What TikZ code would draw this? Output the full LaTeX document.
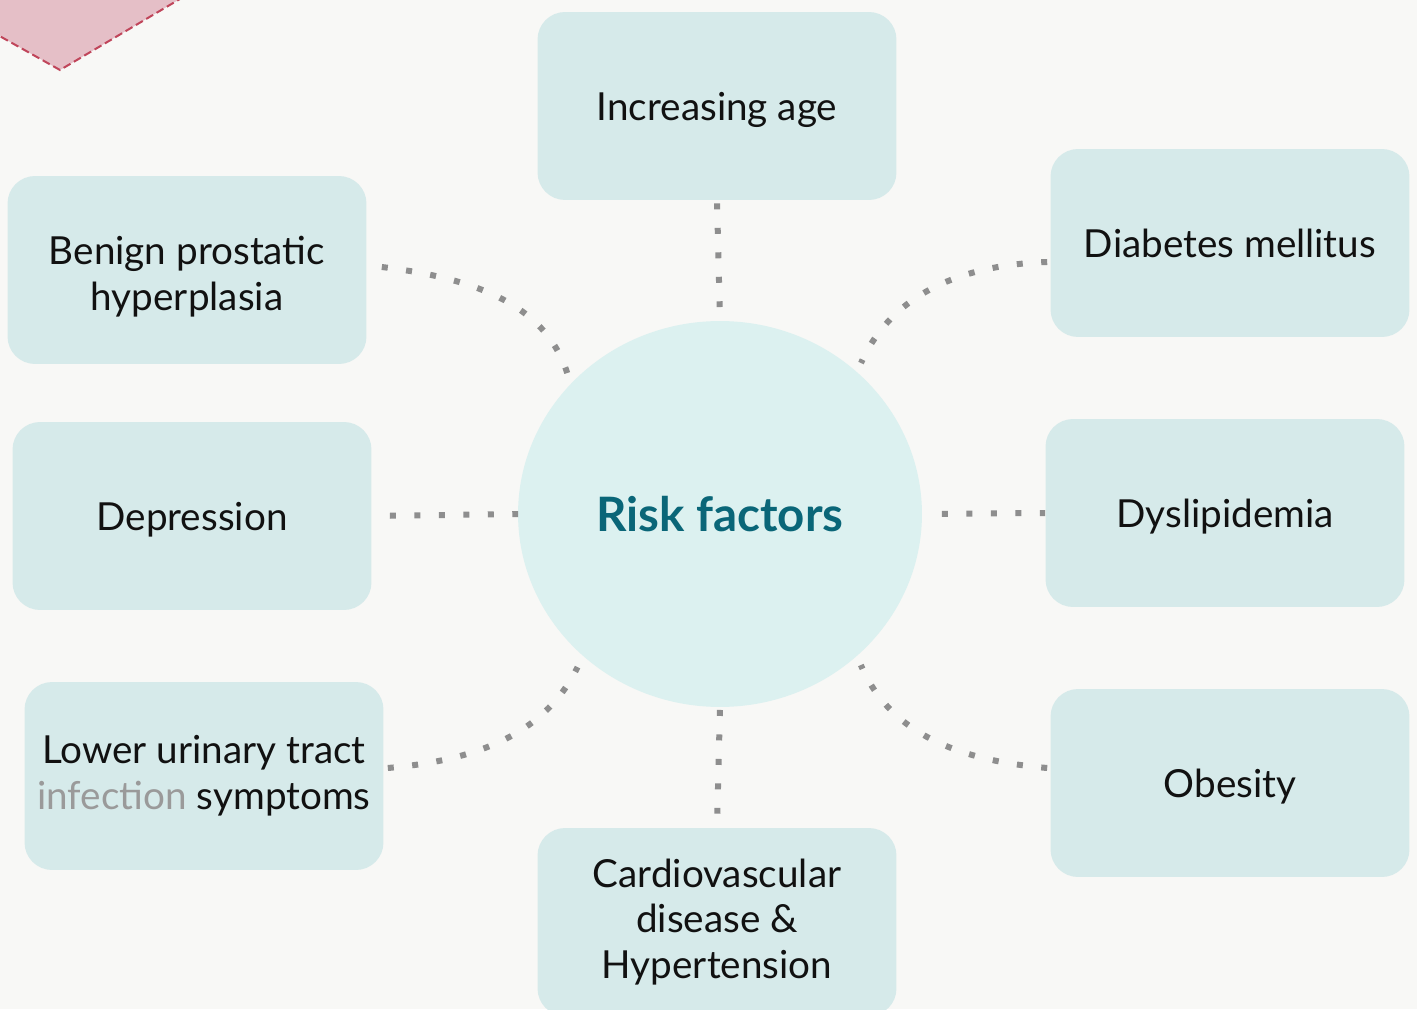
\documentclass[tikz,border=0pt]{standalone}
\usepackage{fontspec}
\setmainfont{Lato}
\usepackage{xcolor}
\usetikzlibrary{shapes.geometric}
\definecolor{bgcol}{HTML}{F8F8F6}
\definecolor{boxfill}{HTML}{D6EAEA}
\definecolor{hubfill}{HTML}{DCF1F0}
\definecolor{hubtext}{HTML}{0A6678}
\definecolor{boxtext}{HTML}{111111}
\definecolor{fadetext}{HTML}{9A9A9A}
\definecolor{linkgray}{HTML}{8E8E8E}
\definecolor{tabfill}{HTML}{E5BFC7}
\definecolor{tabline}{HTML}{C0455A}

\begin{document}
\begin{tikzpicture}[x=0.02cm,y=0.02cm,
  factor/.style={rectangle,rounded corners=0.55cm,fill=boxfill,minimum width=7.18cm,minimum height=3.76cm,inner sep=0pt,align=center,text=boxtext,font=\fontsize{22}{26}\selectfont},
  oneline/.style={text height=23pt,text depth=6pt},
  hub/.style={ellipse,fill=hubfill,minimum width=8.08cm,minimum height=7.72cm,inner sep=0pt,outer sep=0pt,text=hubtext,font=\fontsize{27}{32}\selectfont\bfseries},
  link/.style={draw=linkgray,line width=0.12cm,dash pattern=on 0.12cm off 0.37cm}]
  \useasboundingbox (0,0) rectangle (1417,1009);
  \clip (0,0) rectangle (1417,1009);
  \fill[bgcol] (0,0) rectangle (1417,1009);
  % corner tab
  \filldraw[fill=tabfill,draw=tabline,line width=0.04cm,dash pattern=on 0.16cm off 0.08cm]
    (-20,984) -- (60,939) -- (212,1029) -- (-20,1029) -- cycle;

  \node[hub] (risk) at (720,495) {Risk factors};

  \node[factor,oneline] (age)  at (717,903) {Increasing age};
  \node[factor,text height=50pt] (bph) at (187,739) {Benign prostatic\\hyperplasia};
  \node[factor,oneline] (diab) at (1230,766) {Diabetes mellitus};
  \node[factor,oneline] (depr) at (192,493) {Depression};
  \node[factor,oneline] (dysl) at (1225,496) {Dyslipidemia};
  \node[factor] (luts) at (204,233) {Lower urinary tract\\\textcolor{fadetext}{infection} symptoms};
  \node[factor,oneline] (obes) at (1230,226) {Obesity};
  \node[factor] (cvd)  at (717,87) {Cardiovascular\\disease \&\\Hypertension};

  % straight links
  \draw[link,shorten <=0.06cm,shorten >=0.28cm] (age.south) -- (risk.north);
  \draw[link,shorten <=0.06cm,shorten >=0.28cm] (risk.south) -- (cvd.north);
  \draw[link,shorten <=0.36cm] (depr.east) -- (risk.west);
  \draw[link,shorten <=0.4cm] (risk.east) -- (dysl.west);
  % curved links
  \draw[link,shorten >=0.2cm] ([xshift=0.3cm,yshift=0.06cm]bph.east) to[out=-7,in=107] (risk.139);
  \draw[link,shorten >=0.2cm] ([xshift=-0.06cm,yshift=-0.38cm]diab.west) to[out=182,in=66] (risk.46);
  \draw[link,shorten >=0.25cm] ([xshift=0.08cm,yshift=0.16cm]luts.east) to[out=5,in=-116] (risk.226);
  \draw[link,shorten >=0.2cm] ([xshift=-0.06cm,yshift=0.3cm]obes.west) to[out=175,in=-67] (risk.314);
\end{tikzpicture}
\end{document}
